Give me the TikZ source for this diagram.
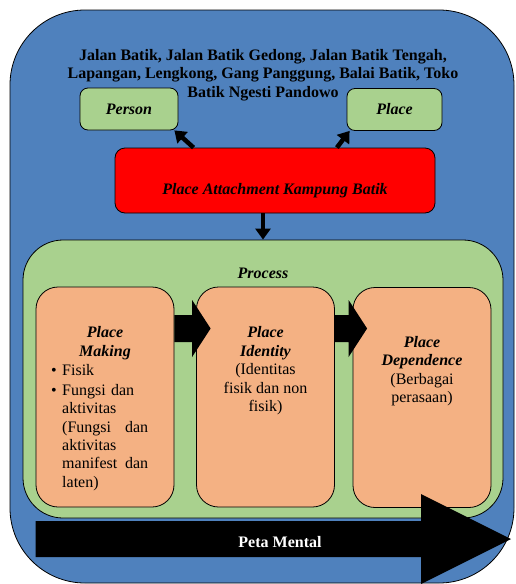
\documentclass[tikz,border=0pt]{standalone}
\usepackage{fontspec}
\setmainfont{LiberationSerif}[Extension=.ttf,UprightFont=*-Regular,BoldFont=*-Bold,ItalicFont=*-Italic,BoldItalicFont=*-BoldItalic]
\usetikzlibrary{arrows.meta,positioning,calc}
\definecolor{outerblue}{HTML}{4F81BD}
\definecolor{procgreen}{HTML}{A9D18E}
\definecolor{stageorange}{HTML}{F4B183}
\newcommand{\boxfont}{\rmfamily\fontsize{16}{18.4}\selectfont}
\tikzset{>={Triangle[length=11pt,width=15pt]}}
\tikzset{small node/.style={draw,line width=0.8pt,fill=procgreen,rounded corners=8pt,minimum height=42pt,inner sep=0pt,font=\boxfont\bfseries\itshape},
         stage node/.style={draw,line width=0.8pt,fill=stageorange,rounded corners=22pt,minimum width=138pt,minimum height=220pt},
         stage text/.style={align=center,inner sep=0pt,font=\boxfont},
         fat arrow/.style={draw,line width=4.5pt,->},
            }

\begin{document}
\begin{tikzpicture}[x=1pt,y=-1pt]

    \useasboundingbox (0,0) rectangle (516,584);
    \draw[line width=0.8pt,fill=outerblue,rounded corners=75pt] (10,10) rectangle (514,583);

    \node[align=center,inner sep=0pt,font=\boxfont\bfseries] (streets) at (263,75)
        {Jalan Batik, Jalan Batik Gedong, Jalan Batik Tengah,\\Lapangan, Lengkong, Gang Panggung, Balai Batik, Toko\\Batik Ngesti Pandowo};

    \node[small node,minimum width=98pt] (person) at (129,109) {Person};
    \node[small node,minimum width=95pt] (place) at (394.5,109.5) {Place};
    \node[draw,line width=0.8pt,fill=red,rounded corners=10pt,minimum width=320pt,inner sep=0pt,
          text height=46pt,text depth=19pt,font=\boxfont\bfseries\itshape] (attach) at (275,180.5) {Place Attachment Kampung Batik};

    \draw[fat arrow] (attach.158) -- ([xshift=-4pt]person.south east);
    \draw[fat arrow] (attach.28.4) -- ([xshift=3pt]place.south west);

    \node[draw,line width=0.8pt,fill=procgreen,rounded corners=40pt,minimum width=480pt,minimum height=278pt] (process) at (263,379) {};
    \draw[fat arrow] (attach.south -| process.north) -- (process.north);
    \node[font=\boxfont\bfseries\itshape,anchor=base] (proclabel) at (263,278) {Process};

    \node[stage node] (making) at (105,397) {};
    \node[stage node] (identity) at (265.5,397) {};
    \node[stage node] (dependence) at (422,397.5) {};

    \node[stage text,below=40pt of making.north] (makingtitle) {\textbf{\textit{Place}}\\\textbf{\textit{Making}}};
    \node[anchor=north west,inner sep=0pt,text width=97pt,align=left,font=\boxfont] (makinglist) at (51,364) {%
        \makebox[11pt][l]{\textbullet}Fisik\\[1.6pt]
        \makebox[11pt][l]{\textbullet}Fungsi dan\\
        \hspace*{11pt}aktivitas\\
        \hspace*{11pt}(Fungsi\hfill dan\\
        \hspace*{11pt}aktivitas\\
        \hspace*{11pt}manifest\hfill dan\\
        \hspace*{11pt}laten)};
    \node[stage text,below=40pt of identity.north] (identitytext) {\textbf{\textit{Place}}\\\textbf{\textit{Identity}}\\(Identitas\\fisik dan non\\fisik)};
    \node[stage text,below=49pt of dependence.north] (dependencetext) {\textbf{\textit{Place}}\\\textbf{\textit{Dependence}}\\(Berbagai\\perasaan)};

    % block arrows between the stages
    \foreach \a/\b in {making/identity,identity/dependence}
        \fill (\a.east |- 0,315) -| ([xshift=-4pt]\b.west |- 0,300) -- ([xshift=14.5pt]\b.west |- 0,328.5)
              -- ([xshift=-4pt]\b.west |- 0,357) |- (\a.east |- 0,342) -- cycle;

    % peta mental
    \fill (making.west |- 0,521) -- (421,521) -- (421,494) -- (511,539) -- (421,584) -- (421,557) -- (making.west |- 0,557) -- cycle;
    \node[font=\boxfont\bfseries,text=white,anchor=base] (mental) at (280,547) {Peta Mental};

\end{tikzpicture}
\end{document}
